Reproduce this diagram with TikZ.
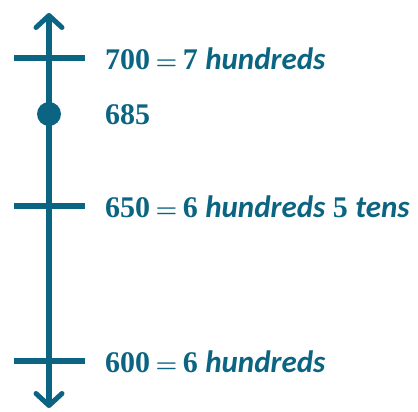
\documentclass[tikz,border=0pt]{standalone}
\usepackage{fontspec}
\setmainfont{Liberation Serif}
\newfontfamily\wordfont{Carlito}
\usetikzlibrary{arrows.meta}
\definecolor{teal1}{HTML}{0B6582}
\tikzset{
  axisline/.style={draw=teal1, line width=5.5pt, -{Straight Barb[length=12pt,width=26pt,line width=5pt,round]}},
  tick/.style={draw=teal1, line width=5.5pt},
  lab/.style={anchor=west, text=teal1, font=\fontsize{30}{32}\selectfont\bfseries, inner sep=0pt},
}
\newcommand{\wrd}[1]{{\wordfont\itshape\fontsize{31}{32}\selectfont #1}}
\newcommand{\eqs}{\hspace{0.18em}{\boldmath$=$}\hspace{0.18em}}
\begin{document}
\begin{tikzpicture}[x=1pt,y=-1pt]
\useasboundingbox (0,0) rectangle (418,412);
\coordinate (top) at (49,13);
\coordinate (bot) at (49,408);
\coordinate (mid) at (49,200);
\draw[axisline] (mid) -- (top);
\draw[axisline] (mid) -- (bot);
\coordinate (t7l) at (14,58); \coordinate (t7r) at (85,58);
\coordinate (t65l) at (14,206); \coordinate (t65r) at (85,206);
\coordinate (t6l) at (14,361); \coordinate (t6r) at (85,361);
\draw[tick] (t7l) -- (t7r);
\draw[tick] (t65l) -- (t65r);
\draw[tick] (t6l) -- (t6r);
\fill[teal1] (49,114) circle (12);
\node[lab] (l700) at (105,59) {700\eqs7 \wrd{hundreds}};
\node[lab] (l685) at (105,115) {685};
\node[lab] (l650) at (105,207) {650\eqs6 \wrd{hundreds} 5 \wrd{tens}};
\node[lab] (l600) at (105,362) {600\eqs6 \wrd{hundreds}};
\end{tikzpicture}
\end{document}
